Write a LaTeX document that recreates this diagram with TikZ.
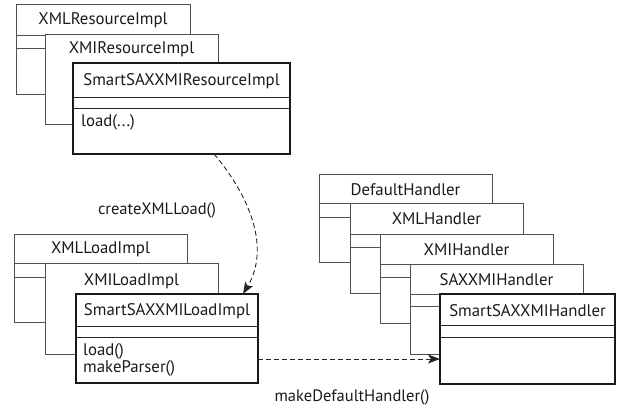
\documentclass[tikz,border=0pt]{standalone}
\usepackage{fontspec}
\setmainfont{PT Sans}
\usetikzlibrary{arrows.meta,calc}
\definecolor{thinc}{HTML}{505050}
\definecolor{txtc}{HTML}{1A1A1A}
\tikzset{
  cls/.style={draw=thinc, line width=0.9pt, fill=white, anchor=north west, inner sep=0pt, outer sep=0pt},
  smartcls/.style={cls, draw=black!90, line width=2pt},
  divline/.style={draw=thinc, line width=0.9pt},
  sdivline/.style={draw=black!85, line width=0.9pt},
  ttl/.style={font=\fontsize{16.8}{15}\selectfont, text=txtc, inner sep=0pt},
  meth/.style={font=\fontsize{16.8}{15}\selectfont, text=txtc, inner sep=0pt, anchor=west, align=left},
  lbl/.style={font=\fontsize{16.5}{15}\selectfont, text=txtc, inner sep=0pt},
  dep/.style={draw=black!85, line width=0.9pt, dash pattern=on 5pt off 3pt, -{Stealth[length=12pt,width=9pt,inset=3pt]}}
}
% #1 name, #2 style, #3 x, #4 y, #5 w, #6 h
\newcommand\umlbox[6]{\node[#2, minimum width=#5pt, minimum height=#6pt] (#1) at (#3pt,-#4pt) {};}
% #1 node, #2 offset, #3 style
\newcommand\umldiv[3]{\draw[#3] ([yshift=-#2pt]#1.north west) -- ([yshift=-#2pt]#1.north east);}
\begin{document}
\begin{tikzpicture}[x=1pt,y=-1pt]
\useasboundingbox (0,0) rectangle (619,409);
% ---------- resource group ----------
\umlbox{A1}{cls}{16}{4}{174}{90}
\umldiv{A1}{31}{divline}\umldiv{A1}{44}{divline}
\node[ttl] (A1t) at ($(A1.north)+(0,16)$) {XMLResourceImpl};
\umlbox{A2}{cls}{45}{34}{173}{90}
\node[ttl] (A2t) at ($(A2.north)+(0,15.5)$) {XMIResourceImpl};
\umlbox{A3}{smartcls}{73}{63}{217}{91}
\umldiv{A3}{34}{sdivline}\umldiv{A3}{45}{sdivline}
\node[ttl] (A3t) at ($(A3.north)+(0,18)$) {SmartSAXXMIResourceImpl};
\node[meth] (A3m) at ($(A3.north west)+(8,59.5)$) {load(...)};
% ---------- load group ----------
\umlbox{B1}{cls}{14}{234}{173}{88}
\umldiv{B1}{29}{divline}\umldiv{B1}{43}{divline}
\node[ttl] (B1t) at ($(B1.north)+(0,15.5)$) {XMLLoadImpl};
\umlbox{B2}{cls}{45}{263}{173}{91}
\node[ttl] (B2t) at ($(B2.north)+(0,18)$) {XMILoadImpl};
\umlbox{B3}{smartcls}{76}{294}{182}{89}
\umldiv{B3}{32}{sdivline}\umldiv{B3}{43}{sdivline}
\node[ttl] (B3t) at ($(B3.north)+(0,17)$) {SmartSAXXMILoadImpl};
\node[meth] (B3m) at ($(B3.north west)+(7,66)$) {load()\\makeParser()};
% ---------- handler group ----------
\umlbox{C1}{cls}{319}{174}{173}{88}
\umldiv{C1}{29}{divline}\umldiv{C1}{43}{divline}
\node[ttl] (C1t) at ($(C1.north)+(0,15.5)$) {DefaultHandler};
\umlbox{C2}{cls}{350}{203}{173}{90}
\umldiv{C2}{31}{divline}\umldiv{C2}{44}{divline}
\node[ttl] (C2t) at ($(C2.north)+(0,16)$) {XMLHandler};
\umlbox{C3}{cls}{380}{234}{173}{89}
\umldiv{C3}{30}{divline}\umldiv{C3}{43}{divline}
\node[ttl] (C3t) at ($(C3.north)+(0,15.5)$) {XMIHandler};
\umlbox{C4}{cls}{410}{264}{173}{90}
\umldiv{C4}{30}{divline}\umldiv{C4}{42}{divline}
\node[ttl] (C4t) at ($(C4.north)+(0,15.5)$) {SAXXMIHandler};
\umlbox{C5}{smartcls}{440}{294}{175}{90}
\umldiv{C5}{31}{sdivline}\umldiv{C5}{43}{sdivline}
\node[ttl] (C5t) at ($(C5.north)+(0,16.5)$) {SmartSAXXMIHandler};
% ---------- connectors ----------
\draw[dep] ([xshift=32.5pt]A3.south) .. controls +(30,35) and +(30,-50) .. ([xshift=76pt]B3.north);
\node[lbl] (L1) at (157,210) {createXMLLoad()};
\draw[dep] ([yshift=-20.5pt]B3.east) -- ([yshift=-20.5pt]B3.east -| C5.west);
\node[lbl] (L2) at (352,397) {makeDefaultHandler()};
\end{tikzpicture}
\end{document}
